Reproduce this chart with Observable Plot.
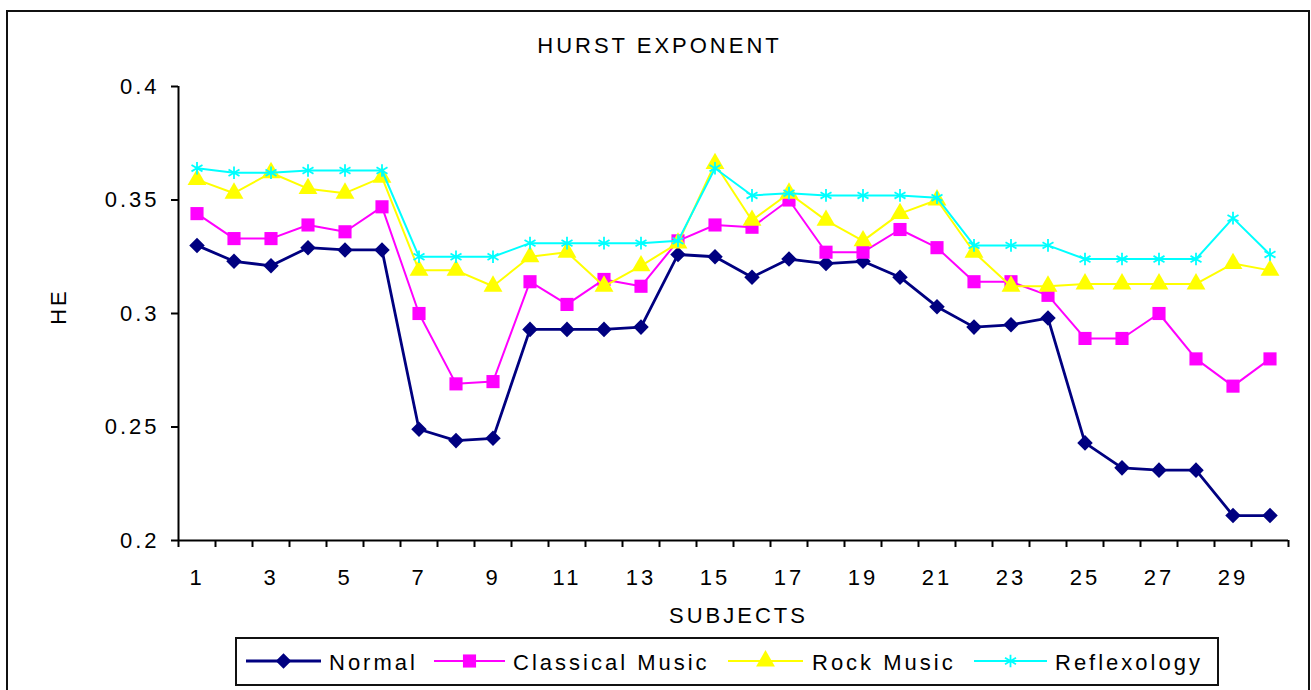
<!DOCTYPE html>
<html>
<head>
<meta charset="utf-8">
<script src="https://cdn.jsdelivr.net/npm/d3@7"></script>
<script src="https://cdn.jsdelivr.net/npm/@observablehq/plot@0.6"></script>
<style>
html, body { margin: 0; padding: 0; background: #fff; overflow: hidden; }
#wrap { position: relative; width: 1311px; height: 690px; font-family: "Liberation Sans", Arial, sans-serif; color: #000; }
#frame { position: absolute; left: 6px; top: 10px; width: 1304px; height: 720px; border: 2px solid #111; box-sizing: border-box; }
#chart { position: absolute; left: 0; top: 0; }
#chart svg text { letter-spacing: 3px; }
.lbl { position: absolute; font-size: 22px; letter-spacing: 3px; line-height: 22px; white-space: nowrap; }
#legend { position: absolute; left: 235px; top: 637px; width: 984px; height: 49px; border: 2px solid #111; box-sizing: border-box; }
</style>
</head>
<body>
<div id="wrap">
  <div id="frame"></div>
  <div id="chart"></div>
  <div class="lbl" id="title" style="left:658px; top:35px; transform:translateX(-50%); padding-left:3px;">HURST EXPONENT</div>
  <div class="lbl" id="xlabel" style="left:737px; top:605px; transform:translateX(-50%); padding-left:3px;">SUBJECTS</div>
  <div class="lbl" id="ylabel" style="left:59px; top:308px; transform:translate(-50%,-50%) rotate(-90deg); padding-left:3px;">HE</div>
  <div id="legend"></div>
</div>
<script>
// ---- Data ----
const subjects = [1,2,3,4,5,6,7,8,9,10,11,12,13,14,15,16,17,18,19,20,21,22,23,24,25,26,27,28,29,30];
const normal =    [0.330,0.323,0.321,0.329,0.328,0.328,0.249,0.244,0.245,0.293,0.293,0.293,0.294,0.326,0.325,0.316,0.324,0.322,0.323,0.316,0.303,0.294,0.295,0.298,0.243,0.232,0.231,0.231,0.211,0.211];
const classical = [0.344,0.333,0.333,0.339,0.336,0.347,0.300,0.269,0.270,0.314,0.304,0.315,0.312,0.332,0.339,0.338,0.350,0.327,0.327,0.337,0.329,0.314,0.314,0.308,0.289,0.289,0.300,0.280,0.268,0.280];
const rock =      [0.359,0.353,0.362,0.355,0.353,0.360,0.319,0.319,0.312,0.325,0.327,0.312,0.321,0.331,0.366,0.341,0.353,0.341,0.332,0.344,0.350,0.327,0.312,0.312,0.313,0.313,0.313,0.313,0.322,0.319];
const reflex =    [0.364,0.362,0.362,0.363,0.363,0.363,0.325,0.325,0.325,0.331,0.331,0.331,0.331,0.332,0.364,0.352,0.353,0.352,0.352,0.352,0.351,0.330,0.330,0.330,0.324,0.324,0.324,0.324,0.342,0.326];
const seriesNames = ["Normal", "Classical Music", "Rock Music", "Reflexology"];
const yTicks = [0.2, 0.25, 0.3, 0.35, 0.4];
const xTickLabels = [1,3,5,7,9,11,13,15,17,19,21,23,25,27,29];
const xTickMarks = [0.5,1.5,2.5,3.5,4.5,5.5,6.5,7.5,8.5,9.5,10.5,11.5,12.5,13.5,14.5,15.5,16.5,17.5,18.5,19.5,20.5,21.5,22.5,23.5,24.5,25.5,26.5,27.5,28.5,29.5,30.5];

// ---- Styles per series ----
const styles = [
  {color: "#000080", symbol: "diamond2", r: 7, width: 2.8, filled: true},
  {color: "#FF00FF", symbol: "square", r: 7.4, width: 2, filled: true},
  {color: "#FFFF00", symbol: "triangle", r: 7, width: 2, filled: true},
  {color: "#00FFFF", symbol: "asterisk", r: 6, width: 2, filled: false}
];
const values = [normal, classical, rock, reflex];

const marks = [
  Plot.axisY({ticks: yTicks, tickSize: 7, tickPadding: 12, tickFormat: d => String(d), label: null, strokeWidth: 2}),
  Plot.axisX({ticks: xTickMarks, tickSize: 7, tickFormat: () => "", label: null, strokeWidth: 2}),
  Plot.axisX({ticks: xTickLabels, tickSize: 0, tickPadding: 29, label: null}),
  Plot.ruleX([0.5], {stroke: "#000", strokeWidth: 2}),
  Plot.ruleY([0.2], {stroke: "#000", strokeWidth: 2})
];

values.forEach((vals, k) => {
  const st = styles[k];
  const data = subjects.map((s, i) => ({subject: s, value: vals[i], series: seriesNames[k]}));
  marks.push(Plot.line(data, {x: "subject", y: "value", stroke: st.color, strokeWidth: st.width}));
  if (st.filled) {
    marks.push(Plot.dot(data, {x: "subject", y: "value", symbol: st.symbol, r: st.r, fill: st.color, stroke: "none"}));
  } else {
    marks.push(Plot.dot(data, {x: "subject", y: "value", symbol: st.symbol, r: st.r, fill: "none", stroke: st.color, strokeWidth: 1.8}));
  }
});

const chart = Plot.plot({
  width: 1311,
  height: 690,
  marginLeft: 178,
  marginRight: 23,
  marginTop: 86,
  marginBottom: 150,
  x: {domain: [0.5, 30.5]},
  y: {domain: [0.2, 0.4]},
  style: {fontFamily: "'Liberation Sans', Arial, sans-serif", fontSize: "22px", color: "#000", background: "transparent", overflow: "visible"},
  marks
});
document.getElementById("chart").appendChild(chart);

// ---- Legend ----
const legend = document.getElementById("legend");
const legendPos = [
  {line: [244, 319], text: 329},
  {line: [432, 503], text: 513},
  {line: [726, 801], text: 812},
  {line: [972, 1045], text: 1055}
];
const symMap = {diamond2: d3.symbolDiamond2, square: d3.symbolSquare, triangle: d3.symbolTriangle, asterisk: d3.symbolAsterisk};
seriesNames.forEach((name, k) => {
  const st = styles[k];
  const p = legendPos[k];
  const ox = 235, oy = 637;
  const w = p.line[1] - p.line[0];
  const svg = d3.create("svg")
    .attr("width", w + 20).attr("height", 30)
    .style("position", "absolute")
    .style("left", (p.line[0] - ox - 10) + "px")
    .style("top", (661 - oy - 15 - 2) + "px")
    .style("overflow", "visible");
  svg.append("line").attr("x1", 10).attr("x2", 10 + w).attr("y1", 15).attr("y2", 15)
    .attr("stroke", st.color).attr("stroke-width", st.width);
  const size = Math.PI * st.r * st.r;
  const path = svg.append("path").attr("d", d3.symbol(symMap[st.symbol], size)()).attr("transform", `translate(${10 + w / 2},15)`);
  if (st.filled) path.attr("fill", st.color);
  else path.attr("fill", "none").attr("stroke", st.color).attr("stroke-width", 1.8);
  legend.appendChild(svg.node());
  const t = document.createElement("div");
  t.className = "lbl";
  t.textContent = name;
  t.style.left = (p.text - ox - 2) + "px";
  t.style.top = (652 - oy - 2) + "px";
  legend.appendChild(t);
});
</script>
</body>
</html>
